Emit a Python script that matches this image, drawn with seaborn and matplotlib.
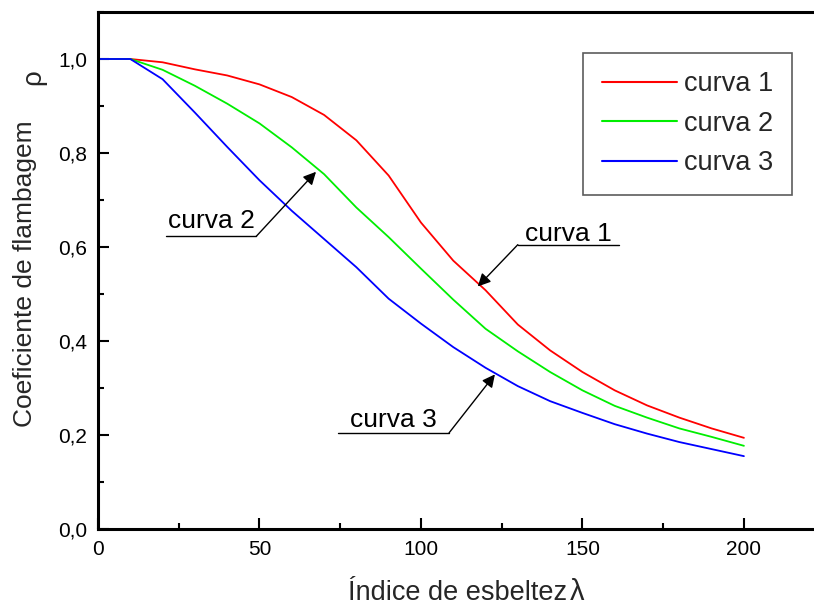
import numpy as np
import pandas as pd
import matplotlib
matplotlib.use("Agg")
import matplotlib.pyplot as plt
from matplotlib.ticker import MultipleLocator
import seaborn as sns

# slenderness index and buckling coefficient
lam = [0, 10, 20, 30, 40, 50, 60, 70, 80, 90, 100,
       110, 120, 130, 140, 150, 160, 170, 180, 190, 200]
curva1 = [1.0, 1.0, 0.993, 0.978, 0.965, 0.946, 0.919, 0.881, 0.827, 0.752, 0.652,
          0.571, 0.508, 0.435, 0.380, 0.334, 0.295, 0.263, 0.237, 0.214, 0.194]
curva2 = [1.0, 1.0, 0.977, 0.943, 0.905, 0.863, 0.812, 0.755, 0.684, 0.621, 0.554,
          0.488, 0.426, 0.378, 0.334, 0.295, 0.262, 0.237, 0.214, 0.196, 0.177]
curva3 = [1.0, 1.0, 0.957, 0.886, 0.813, 0.742, 0.677, 0.617, 0.557, 0.490, 0.437,
          0.387, 0.343, 0.304, 0.272, 0.247, 0.223, 0.203, 0.185, 0.170, 0.155]
series_names = ["curva 1", "curva 2", "curva 3"]
ytick_vals = [0.0, 0.2, 0.4, 0.6, 0.8, 1.0]
ytick_labels = ["0,0", "0,2", "0,4", "0,6", "0,8", "1,0"]
xtick_vals = [0, 50, 100, 150, 200]


def build_frame():
    frames = []
    for name, vals in zip(series_names, [curva1, curva2, curva3]):
        frames.append(pd.DataFrame({"lam": lam, "rho": vals, "curva": name}))
    return pd.concat(frames, ignore_index=True)


def main():
    sns.set_theme(style="ticks")
    plt.rcParams["font.family"] = ["Liberation Sans", "DejaVu Sans"]

    df = build_frame()
    fig = plt.figure(figsize=(8.14, 6.05), dpi=100)
    ax = fig.add_axes([98 / 814, 76 / 605, 716 / 814, 517 / 605])

    palette = {"curva 1": "#ff0000", "curva 2": "#00ee00", "curva 3": "#0000ff"}
    sns.lineplot(data=df, x="lam", y="rho", hue="curva", palette=palette,
                 linewidth=1.3, ax=ax)

    ax.set_xlim(0, 221.7)
    ax.set_ylim(0, 1.1)
    ax.set_xticks(xtick_vals)
    ax.xaxis.set_minor_locator(MultipleLocator(25))
    ax.set_yticks(ytick_vals)
    ax.set_yticklabels(ytick_labels)
    ax.yaxis.set_minor_locator(MultipleLocator(0.1))
    ax.set_xlabel("")
    ax.set_ylabel("")

    ax.tick_params(which="major", direction="in", length=8, width=1.5,
                   labelsize=15, pad=8, color="black", labelcolor="black")
    ax.tick_params(which="minor", direction="in", length=4.5, width=1.5, color="black")

    for side in ["left", "bottom", "top"]:
        ax.spines[side].set_visible(True)
        ax.spines[side].set_linewidth(2.2)
        ax.spines[side].set_color("black")
    ax.spines["right"].set_visible(False)

    leg = ax.legend(loc="upper right", bbox_to_anchor=(0.969, 0.921),
                    fontsize=19.5, frameon=True, fancybox=False,
                    handlelength=2.8, handletextpad=0.25, labelspacing=0.5,
                    borderpad=0.68, borderaxespad=0)
    leg.get_frame().set_edgecolor("#333333")
    leg.get_frame().set_linewidth(1.2)
    for line in leg.get_lines():
        line.set_linewidth(1.5)

    # labelled arrows: text start, underline span, arrow tip
    notes = [
        ("curva 2", (21.7, 0.641), (21.1, 49.0, 0.6227), (67.5, 0.760)),
        ("curva 1", (132.2, 0.6136), (161.3, 130.0, 0.605), (117.6, 0.516)),
        ("curva 3", (78.0, 0.217), (74.3, 108.7, 0.2045), (122.9, 0.329)),
    ]
    for label, (tx, ty), (ux0, ux1, uy), tip in notes:
        ax.text(tx, ty, label, fontsize=19, va="baseline", ha="left", color="black")
        ax.plot([ux0, ux1], [uy, uy], color="black", linewidth=1.0)
        ax.annotate("", xy=tip, xytext=(ux1, uy),
                    arrowprops=dict(arrowstyle="-|>", color="black", lw=1.0,
                                    mutation_scale=19, shrinkA=0, shrinkB=0))

    fig.text(348 / 814, 5 / 605, "Índice de esbeltez", fontsize=19.5,
             ha="left", va="baseline")
    fig.text(570 / 814, 5 / 605, "λ", fontsize=21, ha="left", va="baseline")
    fig.text(32 / 814, (605 - 273.5) / 605, "Coeficiente de flambagem", fontsize=19,
             rotation=90, rotation_mode="anchor", ha="center", va="baseline")
    fig.text(40 / 814, (605 - 77) / 605, "ρ", fontsize=20,
             rotation=90, rotation_mode="anchor", ha="center", va="baseline")

    fig.savefig("out.png", dpi=100)


if __name__ == "__main__":
    main()
